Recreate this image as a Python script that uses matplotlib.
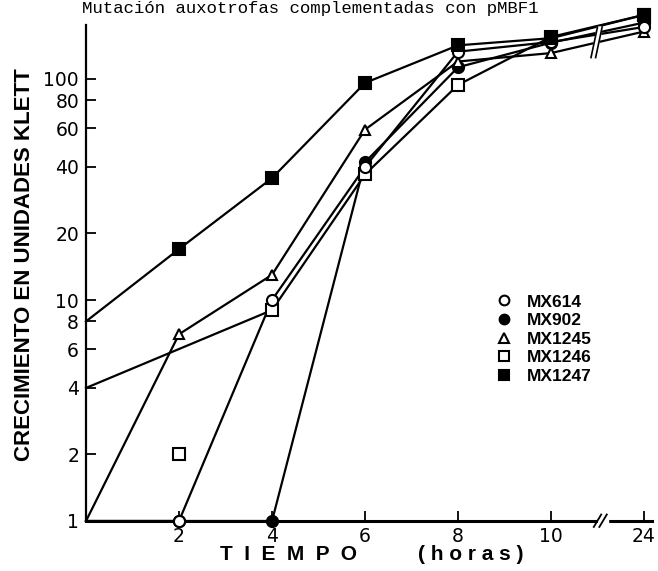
import matplotlib
matplotlib.use("Agg")
from matplotlib import pyplot as plt
from matplotlib.lines import Line2D
import numpy as np

# horas (eje con corte entre 10 y 24)
hours = [0, 2, 4, 6, 8, 10, 24]
tick_labels = ['2', '4', '6', '8', '10', '24']

mx614 = [1, 1, 10, 40, 133, 147, 172]
mx902 = [1, 1, 1, 42, 113, 146, 180]
mx1245 = [1, 7, 13, 59, 120, 131, 164]
mx1246 = [4, 2, 9, 37, 94, 155, 195]
mx1247 = [8, 17, 35.6, 96, 142, 153, 195]

# punto aislado de MX1246 (no unido a la curva)
mx1246_loose = 2

strains = ['MX614', 'MX902', 'MX1245', 'MX1246', 'MX1247']
markers = ['o', 'o', '^', 's', 's']
fills = ['white', 'black', 'white', 'white', 'black']


def pos(h):
    # 24 h se dibuja justo despues del corte
    return h if h <= 10 else 12


x = np.array([pos(h) for h in hours], dtype=float)

fig = plt.figure(figsize=(6.58, 5.71), dpi=100)
ax = fig.add_axes([86 / 658, 50 / 571, 572 / 658, 521 / 571])
ax.set_yscale('log')
ax.set_ylim(1, 10 ** (521 / 221))
ax.set_xlim(0, (658 - 86) / 46.5)

series = [mx614, mx902, mx1245, mx1246, mx1247]
zorders = [5, 4, 4, 3, 6]
for vals, m, fc, z, name in zip(series, markers, fills, zorders, strains):
    v = np.array(vals, dtype=float)
    if name == 'MX1246':
        keep = [i for i in range(len(hours)) if hours[i] != mx1246_loose]
    else:
        keep = list(range(len(hours)))
    ax.plot(x[keep], v[keep], color='black', lw=1.6, zorder=2, clip_on=False)
    mk = [i for i in range(len(hours)) if hours[i] >= 2]
    ms = 7 if m == '^' else 8
    ax.plot(x[mk], v[mk], ls='none', marker=m, ms=ms, mfc=fc, mec='black',
            mew=1.5, zorder=z, clip_on=False)

# corte en las curvas entre 10 y 24
gx = [10.86, 11.0, 11.1, 10.96]
gy = [125, 172, 172, 125]
ax.fill(gx, gy, color='white', zorder=7)
ax.plot([10.86, 11.0], [125, 172], color='black', lw=1.2, zorder=8)
ax.plot([10.96, 11.1], [125, 172], color='black', lw=1.2, zorder=8)

for s in ['top', 'right']:
    ax.spines[s].set_visible(False)
ax.spines['left'].set_linewidth(1.6)
ax.spines['bottom'].set_linewidth(2.2)
ax.spines['left'].set_bounds(1, 10 ** (496 / 221))
ax.spines['bottom'].set_bounds(0, (652 - 86) / 46.5)

# corte en el eje x
ax.fill_between([11.0, 11.22], 0.9, 1.1, color='white', zorder=9, clip_on=False)
for x0 in [11.0, 11.12]:
    ax.plot([x0 - 0.08, x0 + 0.08], [0.94, 1.07], color='black', lw=1.3,
            zorder=10, clip_on=False)

ax.set_xticks([2, 4, 6, 8, 10, 12])
ax.set_xticklabels(tick_labels)
yt = [1, 2, 4, 6, 8, 10, 20, 40, 60, 80, 100]
ax.set_yticks(yt)
ax.set_yticklabels([str(t) for t in yt])
ax.minorticks_off()
ax.tick_params(axis='both', direction='in', length=7, width=1.3,
               labelsize=13.5, pad=4)
ax.tick_params(axis='y', pad=5)

fig.text(25 / 658, 1 - 265 / 571, 'CRECIMIENTO EN UNIDADES KLETT',
         rotation=90, ha='center', va='center', fontsize=16,
         fontweight='bold', family='Liberation Sans')
fig.text(289 / 658, 1 - 555 / 571, 'T  I  E  M  P  O', ha='center',
         va='center', fontsize=15, fontweight='bold', family='Liberation Sans')
fig.text(471 / 658, 1 - 555 / 571, '( h o r a s )', ha='center', va='center',
         fontsize=15, fontweight='bold', family='Liberation Sans')

fig.text(82 / 658, 1 - 13 / 571, 'Mutación auxotrofas complementadas con pMBF1',
         ha='left', va='baseline', fontsize=12.5, family='Liberation Mono')

handles = [Line2D([], [], ls='none', marker=m, ms=7, mfc=fc, mec='black',
                  mew=1.5) for m, fc in zip(markers, fills)]
ax.legend(handles, strains, loc='upper left', bbox_to_anchor=(0.689, 0.465),
          frameon=False, handlelength=1, handletextpad=0.8, labelspacing=0.2,
          prop={'family': 'Liberation Sans', 'weight': 'bold', 'size': 12.5})

fig.savefig('out.png', dpi=100)
